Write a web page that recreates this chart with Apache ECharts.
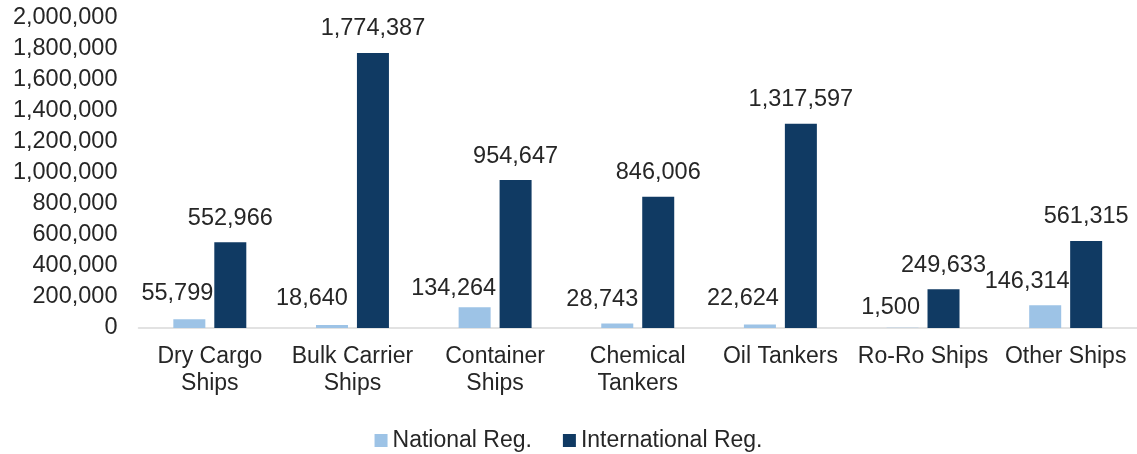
<!DOCTYPE html>
<html>
<head>
<meta charset="utf-8">
<script src="https://cdn.jsdelivr.net/npm/echarts@6/dist/echarts.min.js"></script>
<style>
html,body{margin:0;padding:0;background:#fff;}
#chart{width:1137px;height:454px;}
</style>
</head>
<body>
<div id="chart"></div>
<script>
const categories = ["Dry Cargo\nShips", "Bulk Carrier\nShips", "Container\nShips", "Chemical\nTankers", "Oil Tankers", "Ro-Ro Ships", "Other Ships"];
const nationalReg = [55799, 18640, 134264, 28743, 22624, 1500, 146314];
const internationalReg = [552966, 1774387, 954647, 846006, 1317597, 249633, 561315];
const seriesNames = ["National Reg.", "International Reg."];
const yTicks = { min: 0, max: 2000000, interval: 200000 };

// label nudges for the National Reg. labels (pixels), as placed in the reference
const nationalLabelShift = [[-12, -2], [-20, -3], [-21, 5], [-15, 0], [-17, -2], [-12, 4], [-18, 0]];

const FONT = "Liberation Sans, Arial, sans-serif";
const TXT = "#262626";
const fmt = v => v.toLocaleString("en-US");

const chart = echarts.init(document.getElementById("chart"));
chart.setOption({
  animation: false,
  textStyle: { fontFamily: FONT },
  grid: { left: 138.5, top: 18, width: 1001, height: 310, containLabel: false },
  legend: {
    data: seriesNames,
    left: "center",
    top: 424,
    itemWidth: 13,
    itemHeight: 13,
    itemGap: 31,
    icon: "rect",
    textStyle: { fontFamily: FONT, fontSize: 23, color: TXT }
  },
  xAxis: {
    type: "category",
    data: categories,
    axisLine: { lineStyle: { color: "#d9d9d9", width: 1.5 } },
    axisTick: { show: false },
    axisLabel: { fontFamily: FONT, fontSize: 23, color: TXT, lineHeight: 27, margin: 15, interval: 0 }
  },
  yAxis: {
    type: "value",
    min: yTicks.min,
    max: yTicks.max,
    interval: yTicks.interval,
    splitLine: { show: false },
    axisLine: { show: false },
    axisTick: { show: false },
    axisLabel: { fontFamily: FONT, fontSize: 23.5, color: TXT, margin: 21, formatter: v => fmt(v) }
  },
  series: [
    {
      name: seriesNames[0],
      type: "bar",
      barWidth: 32,
      barGap: "28%",
      itemStyle: { color: "#9DC3E6" },
      data: nationalReg.map((v, i) => ({
        value: v,
        label: { offset: nationalLabelShift[i] }
      })),
      label: { show: true, position: "top", distance: 12, fontFamily: FONT, fontSize: 23.5, color: TXT, formatter: p => fmt(p.value) }
    },
    {
      name: seriesNames[1],
      type: "bar",
      barWidth: 32,
      barGap: "28%",
      itemStyle: { color: "#103A63" },
      data: internationalReg,
      label: { show: true, position: "top", distance: 12, fontFamily: FONT, fontSize: 23.5, color: TXT, formatter: p => fmt(p.value) }
    }
  ]
});
</script>
</body>
</html>
